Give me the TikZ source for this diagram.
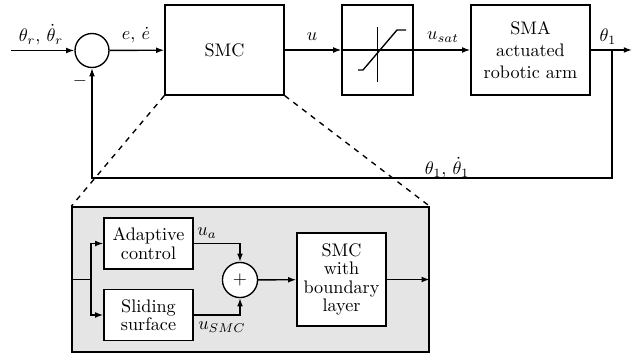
\documentclass[tikz,border=0pt]{standalone}
\usetikzlibrary{arrows.meta}
\begin{document}
\begin{tikzpicture}[x=0.55pt,y=-0.55pt,
  line width=0.75pt,
  >={Latex[length=4.5pt,width=3.2pt]},
  blk/.style={draw,inner sep=0pt,align=center},
  bigblk/.style={blk,minimum width=65.5pt,minimum height=49.5pt},
  smallblk/.style={blk,fill=white,minimum width=49pt,minimum height=28pt},
  sumc/.style={draw,circle,inner sep=0pt,minimum size=18.7pt,fill=white},
  lbl/.style={inner sep=0pt}]
\useasboundingbox (0,0) rectangle (643,354);

% main loop
\coordinate (in) at (11,50.5);
\node[sumc] (s1) at (92,50.5) {};
\node[bigblk] (smc) at (224.5,50) {SMC};
\node[bigblk,minimum width=39pt] (sat) at (377.5,50) {};
\node[bigblk] (sma) at (530.5,50) {SMA\\actuated\\robotic arm};
\coordinate (out) at (632,50);
\coordinate (br) at (612,50);
\coordinate (fbr) at (612,178);
\coordinate (fbl) at (92,178);

\draw[->] (in) -- (s1);
\draw[->] (s1) -- (smc);
\draw[->] (smc) -- (sat);
\draw[->] (sat) -- (sma);
\draw[->] (sma) -- (out);
\draw[->] (br) -- (fbr) -- (fbl) -- (s1.south);

% saturation symbol
\draw (sat.west) -- (sat.east);
\draw (377.5,27) -- (377.5,82);
\draw (358,70) -- (363,70) -- (397,30) -- (406,30);

% labels
\node[lbl] (lth) at (41,35) {$\theta_r,\,\dot{\theta}_r$};
\node[lbl] (le) at (136,35) {$e,\,\dot{e}$};
\node[lbl] (lu) at (312,37) {$u$};
\node[lbl] (lus) at (443,37) {$u_{sat}$};
\node[lbl] (lt1) at (608,37) {$\theta_1$};
\node[lbl] (lfb) at (447,168) {$\theta_1,\,\dot{\theta}_1$};
\node[lbl] (lm) at (80,81) {$-$};

% zoomed detail
\node[draw,fill=gray!20,minimum width=196.4pt,minimum height=79.8pt,inner sep=0pt] (inner) at (250.5,279.5) {};
\draw[dashed] (smc.south west) -- (inner.north west);
\draw[dashed] (smc.south east) -- (inner.north east);

\node[smallblk] (ad) at (148.5,243.5) {Adaptive\\[-1.8pt]control};
\node[smallblk] (sl) at (148.5,315) {Sliding\\[-1.8pt]surface};
\node[sumc,minimum size=19.3pt] (s2) at (240,280) {$+$};
\node[smallblk,minimum height=51.2pt] (bl) at (341.5,279.5) {SMC\\[-1.8pt]with\\[-1.8pt]boundary\\[-1.8pt]layer};
\coordinate (sp) at (91,279.5);

\draw (inner.west) -- (sp);
\draw[->] (sp) |- (ad.west);
\draw[->] (sp) |- (sl.west);
\draw[->] (ad.east) -| (s2.north);
\draw[->] (sl.east) -| (s2.south);
\draw[->] (s2) -- (bl);
\draw[->] (bl.east) -- (inner.east);

\node[lbl] (lua) at (207,233) {$u_a$};
\node[lbl] (lusmc) at (222,327) {$u_{SMC}$};
\end{tikzpicture}
\end{document}
